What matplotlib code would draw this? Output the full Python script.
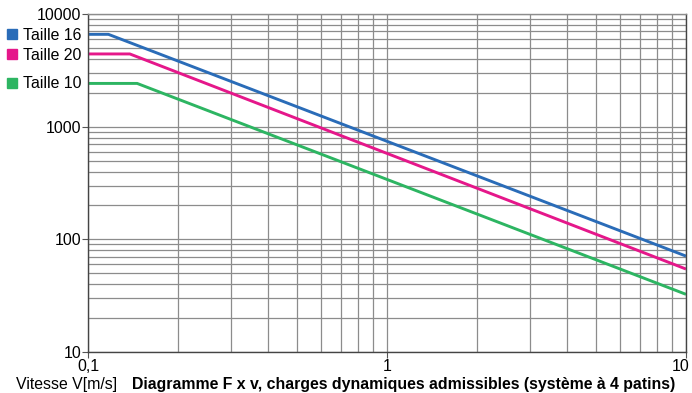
import matplotlib
matplotlib.use("Agg")
import matplotlib.pyplot as plt
import matplotlib.transforms as mtransforms
from matplotlib.ticker import FixedLocator, NullFormatter, LogLocator
from matplotlib.patches import Rectangle

plt.rcParams['font.family'] = ['Liberation Sans', 'DejaVu Sans']

series_names = ["Taille 16", "Taille 20", "Taille 10"]
series_colors = ["#2a6cb8", "#e5178a", "#2db562"]
# x: speed [m/s], y: admissible load F
x_t16 = [0.1, 0.117, 10]
y_t16 = [6600, 6600, 71]
x_t20 = [0.1, 0.138, 10]
y_t20 = [4420, 4420, 54.5]
x_t10 = [0.1, 0.146, 10]
y_t10 = [2420, 2420, 32.5]
xs = [x_t16, x_t20, x_t10]
ys = [y_t16, y_t20, y_t10]

y_ticks = [10, 100, 1000, 10000]
y_tick_labels = ["10", "100", "1000", "10000"]
x_ticks = [0.1, 1, 10]
x_tick_labels = ["0,1", "1", "10"]

FS = 11.4
W, H = 692, 393
fig = plt.figure(figsize=(W / 100, H / 100), dpi=100)
ax = fig.add_axes([88 / W, 1 - 352 / H, (686 - 88) / W, (352 - 14) / H])
ax.set_xscale('log')
ax.set_yscale('log')
ax.set_xlim(0.1, 10)
ax.set_ylim(10, 10000)

ax.xaxis.set_major_locator(FixedLocator(x_ticks))
ax.set_xticklabels(x_tick_labels, fontsize=FS)
ax.yaxis.set_major_locator(FixedLocator(y_ticks))
ax.set_yticklabels(y_tick_labels, fontsize=FS)
ax.xaxis.set_minor_locator(LogLocator(base=10, subs=range(2, 10)))
ax.yaxis.set_minor_locator(LogLocator(base=10, subs=range(2, 10)))
ax.xaxis.set_minor_formatter(NullFormatter())
ax.yaxis.set_minor_formatter(NullFormatter())
ax.tick_params(which='minor', length=0)
ax.tick_params(which='major', length=4, width=0.8, color='#555555', pad=1)

# shift the last x label slightly left so it stays inside the picture
last = ax.get_xticklabels()[-1]
last.set_transform(last.get_transform() +
                   mtransforms.ScaledTranslation(-5 / 100, 0, fig.dpi_scale_trans))

ax.grid(True, which='both', color='#8c8c8c', linewidth=0.9)
ax.set_axisbelow(True)
for s in ax.spines.values():
    s.set_color('#444444')
    s.set_linewidth(1.0)
ax.spines['top'].set_color('#8c8c8c')

for x, y, c in zip(xs, ys, series_colors):
    ax.plot(x, y, color=c, linewidth=2.1, solid_capstyle='butt')

# legend at left margin, aligned with flat levels
legend_y = [34, 54, 83]
for name, c, yp in zip(series_names, series_colors, legend_y):
    fig.patches.append(Rectangle((7 / W, 1 - (yp + 5) / H), 10 / W, 10 / H,
                                 transform=fig.transFigure, color=c))
    fig.text(23 / W, 1 - (yp + 1) / H, name, fontsize=FS, va='center', ha='left')

fig.text(16 / W, 1 - 384 / H, "Vitesse V[m/s]", fontsize=FS, va='center', ha='left')
fig.text(132 / W, 1 - 384 / H,
         "Diagramme F x v, charges dynamiques admissibles (système à 4 patins)",
         fontsize=FS, fontweight='bold', va='center', ha='left')

fig.savefig("out.png", dpi=100)
